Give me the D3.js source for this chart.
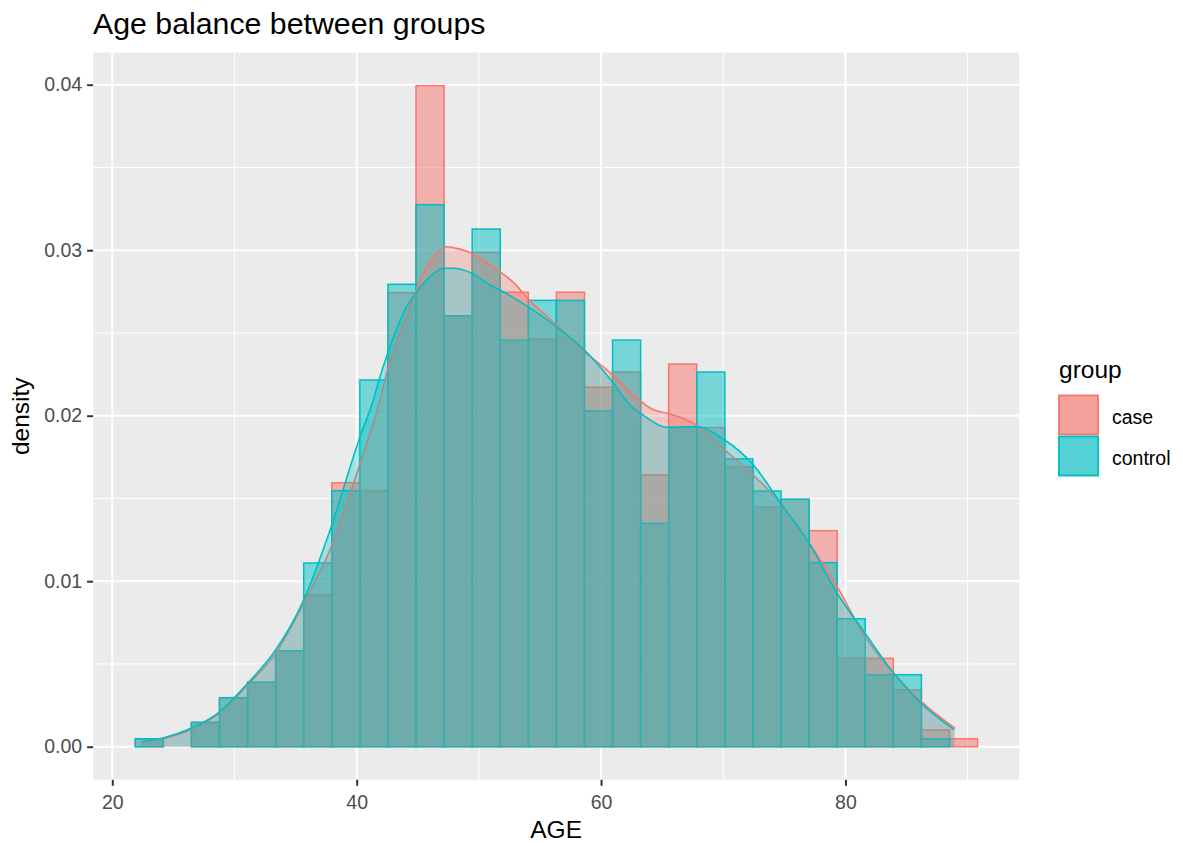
<!DOCTYPE html>
<html>
<head>
<meta charset="utf-8">
<script src="https://cdn.jsdelivr.net/npm/d3@7"></script>
<style>
  body { margin: 0; background: #fff; }
  svg text { font-family: "Liberation Sans", Arial, sans-serif; }
</style>
</head>
<body>
<div id="chart"></div>
<script>
// histogram bins (shared by both groups)
const binStart = 21.88;
const binWidth = 2.2977;
const groups = ['case', 'control'];
const caseHist = [0.00048, 0, 0.00147, 0.00296, 0.00389, 0.0058, 0.00918, 0.01595, 0.01547, 0.02743,
    0.03994, 0.02604, 0.02987, 0.02746, 0.02462, 0.02746, 0.02172, 0.02264, 0.01642, 0.02312,
    0.01928, 0.01692, 0.01447, 0.01495, 0.01305, 0.00534, 0.00534, 0.00343, 0.00101, 0.00048];
const controlHist = [0.00048, 0, 0.00147, 0.00296, 0.00389, 0.0058, 0.0111, 0.01547, 0.02216, 0.02794,
    0.03275, 0.02604, 0.03128, 0.02457, 0.02697, 0.02697, 0.02029, 0.02457, 0.0135, 0.0193,
    0.02264, 0.01739, 0.01545, 0.01495, 0.01112, 0.00773, 0.00435, 0.00435, 0.00048, 0];

// density curves [age, density]
const caseCurve = [[22.41, 0.00028], [24.21, 0.0005], [26.44, 0.00104], [28.79, 0.00204], [31.08, 0.00373],
    [33.37, 0.00564], [35.66, 0.00866], [37.92, 0.01208], [40.19, 0.01692], [41.91, 0.02095],
    [42.45, 0.02256], [44.09, 0.02598], [45.45, 0.0286], [46.55, 0.02981], [47.37, 0.03021],
    [48.18, 0.03011], [49.46, 0.02981], [50.91, 0.02911], [51.73, 0.0287], [52.91, 0.028],
    [53.99, 0.02709], [56.36, 0.02548], [58.64, 0.02387], [60.81, 0.02256], [62.5, 0.02135],
    [64.33, 0.02034], [65.47, 0.02014], [67.81, 0.01944], [70.12, 0.01793], [72.44, 0.01642],
    [74.7, 0.01471], [77.04, 0.01229], [79.32, 0.00967], [81.61, 0.00665], [83.95, 0.00444],
    [86.21, 0.00272], [88.98, 0.00111]];
const controlCurve = [[22.41, 0.0003], [24.21, 0.00054], [26.44, 0.00111], [28.79, 0.00211], [31.08, 0.00383],
    [33.37, 0.00584], [35.66, 0.00886], [37.92, 0.01329], [40.19, 0.01855], [41.36, 0.02095],
    [41.91, 0.02236], [42.54, 0.02377], [44.09, 0.02659], [44.83, 0.0274], [46.0, 0.0284],
    [47.14, 0.02891], [47.9, 0.02891], [49.46, 0.0286], [50.91, 0.0279], [51.73, 0.0276],
    [53.99, 0.02659], [56.36, 0.02538], [58.64, 0.02397], [60.81, 0.02216], [62.5, 0.02054],
    [63.24, 0.02014], [65.47, 0.0193], [67.81, 0.01934], [70.12, 0.01853], [72.44, 0.01705],
    [74.7, 0.01471], [77.04, 0.01229], [79.32, 0.00927], [81.61, 0.00685], [83.95, 0.00444],
    [86.21, 0.00262], [88.89, 0.00103]];

const xTicks = [20, 40, 60, 80];
const xMinor = [30, 50, 70, 90];
const yTicks = [0, 0.01, 0.02, 0.03, 0.04];
const yMinor = [0.005, 0.015, 0.025, 0.035];

const colors = { case: '#F8766D', control: '#00BFC4' };

const width = 1183, height = 846;
const panel = { left: 93.1, right: 1019.2, top: 52.6, bottom: 779.8 };

const svg = d3.select('#chart').append('svg')
    .attr('width', width)
    .attr('height', height);

const x = d3.scaleLinear().domain([18.43, 94.22]).range([panel.left, panel.right]);
const y = d3.scaleLinear().domain([-0.002, 0.04194]).range([panel.bottom, panel.top]);

// title
svg.append('text')
    .attr('x', 93).attr('y', 34)
    .attr('font-size', '30.3px')
    .attr('fill', '#000')
    .text('Age balance between groups');

// panel background + grid
svg.append('rect')
    .attr('x', panel.left).attr('y', panel.top)
    .attr('width', panel.right - panel.left)
    .attr('height', panel.bottom - panel.top)
    .attr('fill', '#EBEBEB');

const grid = svg.append('g');
grid.selectAll('.xminor').data(xMinor).enter().append('line')
    .attr('x1', d => x(d)).attr('x2', d => x(d))
    .attr('y1', panel.top).attr('y2', panel.bottom)
    .attr('stroke', '#fff').attr('stroke-width', 1);
grid.selectAll('.yminor').data(yMinor).enter().append('line')
    .attr('y1', d => y(d)).attr('y2', d => y(d))
    .attr('x1', panel.left).attr('x2', panel.right)
    .attr('stroke', '#fff').attr('stroke-width', 1);
grid.selectAll('.xmajor').data(xTicks).enter().append('line')
    .attr('x1', d => x(d)).attr('x2', d => x(d))
    .attr('y1', panel.top).attr('y2', panel.bottom)
    .attr('stroke', '#fff').attr('stroke-width', 2);
grid.selectAll('.ymajor').data(yTicks).enter().append('line')
    .attr('y1', d => y(d)).attr('y2', d => y(d))
    .attr('x1', panel.left).attr('x2', panel.right)
    .attr('stroke', '#fff').attr('stroke-width', 2);

// histograms: case first, control on top
const hist = { case: caseHist, control: controlHist };
groups.forEach(g => {
    svg.append('g').selectAll('rect')
        .data(hist[g])
        .enter()
        .append('rect')
        .attr('x', (d, i) => x(binStart + i * binWidth))
        .attr('width', (d, i) => x(binStart + (i + 1) * binWidth) - x(binStart + i * binWidth))
        .attr('y', d => y(d))
        .attr('height', d => y(0) - y(d))
        .attr('fill', colors[g])
        .attr('fill-opacity', 0.5)
        .attr('stroke', colors[g])
        .attr('stroke-width', 1.5);
});

// density curves
const curves = { case: caseCurve, control: controlCurve };
const area = d3.area()
    .x(d => x(d[0]))
    .y0(y(0))
    .y1(d => y(d[1]))
    .curve(d3.curveMonotoneX);
const line = d3.line()
    .x(d => x(d[0]))
    .y(d => y(d[1]))
    .curve(d3.curveMonotoneX);
groups.forEach(g => {
    svg.append('path')
        .datum(curves[g])
        .attr('d', area)
        .attr('fill', colors[g])
        .attr('fill-opacity', 0.3);
    svg.append('path')
        .datum(curves[g])
        .attr('d', line)
        .attr('fill', 'none')
        .attr('stroke', colors[g])
        .attr('stroke-width', 1.6);
});

// axes
const xAxis = svg.append('g')
    .attr('transform', `translate(0,${panel.bottom})`)
    .call(d3.axisBottom(x).tickValues(xTicks).tickSize(6).tickPadding(5).tickFormat(d3.format('d')));
const yAxis = svg.append('g')
    .attr('transform', `translate(${panel.left},0)`)
    .call(d3.axisLeft(y).tickValues(yTicks).tickSize(6).tickPadding(5).tickFormat(d3.format('.2f')));
[xAxis, yAxis].forEach(a => {
    a.select('.domain').remove();
    a.selectAll('.tick line').attr('stroke', '#333').attr('stroke-width', 2);
    a.selectAll('.tick text')
        .attr('fill', '#4D4D4D')
        .attr('font-size', '19.5px')
        .attr('font-family', '"Liberation Sans", Arial, sans-serif');
});
xAxis.selectAll('.tick text').attr('dy', '0.95em');

// axis titles
svg.append('text')
    .attr('x', (panel.left + panel.right) / 2).attr('y', 838)
    .attr('text-anchor', 'middle')
    .attr('font-size', '24.5px')
    .text('AGE');
svg.append('text')
    .attr('transform', `translate(29,${(panel.top + panel.bottom) / 2}) rotate(-90)`)
    .attr('text-anchor', 'middle')
    .attr('font-size', '24.5px')
    .text('density');

// legend
const legend = svg.append('g');
legend.append('text')
    .attr('x', 1059).attr('y', 378)
    .attr('font-size', '24.5px')
    .text('group');
groups.forEach((g, i) => {
    const ky = 394.5 + i * 41;
    legend.append('rect')
        .attr('x', 1058).attr('y', ky)
        .attr('width', 41).attr('height', 41)
        .attr('fill', '#F2F2F2');
    legend.append('rect')
        .attr('x', 1059).attr('y', ky + 1)
        .attr('width', 39).attr('height', 39)
        .attr('fill', colors[g]).attr('fill-opacity', 0.5)
        .attr('stroke', colors[g]).attr('stroke-width', 1.5);
    legend.append('rect')
        .attr('x', 1059).attr('y', ky + 1)
        .attr('width', 39).attr('height', 39)
        .attr('fill', colors[g]).attr('fill-opacity', 0.3)
        .attr('stroke', colors[g]).attr('stroke-width', 1.5);
    legend.append('text')
        .attr('x', 1112).attr('y', ky + 29)
        .attr('font-size', '19.5px')
        .text(g);
});
</script>
</body>
</html>
